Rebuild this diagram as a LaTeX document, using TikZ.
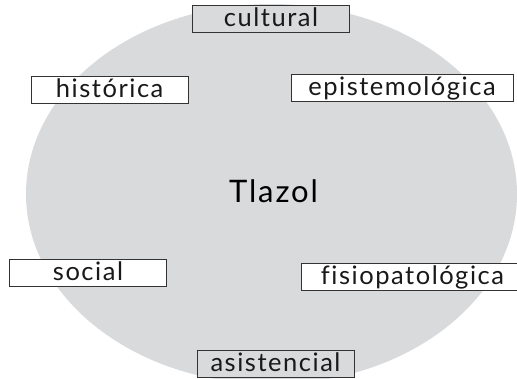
\documentclass[tikz,border=0pt]{standalone}
\usepackage{fontspec}
\setmainfont{Lato}[LetterSpace=6, Ligatures=NoCommon]
\definecolor{ellgray}{HTML}{D9DADC}
\definecolor{boxline}{HTML}{333333}
\begin{document}
\begin{tikzpicture}[x=1pt,y=-1pt,
  lab/.style={draw=boxline, line width=1pt, inner sep=0pt,
    minimum height=27pt, text height=20pt, text depth=5pt,
    font=\fontsize{25.5}{30}\selectfont, text=black!90},
  whitebox/.style={lab, fill=white},
  graybox/.style={lab, fill=ellgray}]
\useasboundingbox (0,0) rectangle (517,379);
\clip (0,0) rectangle (517,379);
\fill[ellgray] (271.5,194) ellipse [x radius=245.5, y radius=190];
\node[font=\fontsize{31}{36}\selectfont, anchor=base] (tlazol) at (273.5,203) {Tlazol};
\node[graybox, minimum width=157pt] (cultural) at (271,19.5) {cultural};
\node[whitebox, minimum width=157pt] (historica) at (109.7,90.5) {histórica};
\node[whitebox, minimum width=222pt] (epist) at (402,88) {epistemológica};
\node[whitebox, minimum width=157pt] (social) at (88,273.5) {social};
\node[whitebox, minimum width=222pt] (fisio) at (412.5,277) {fisiopatológica};
\node[graybox, minimum width=157pt] (asist) at (275.5,364.5) {asistencial};
\end{tikzpicture}
\end{document}
